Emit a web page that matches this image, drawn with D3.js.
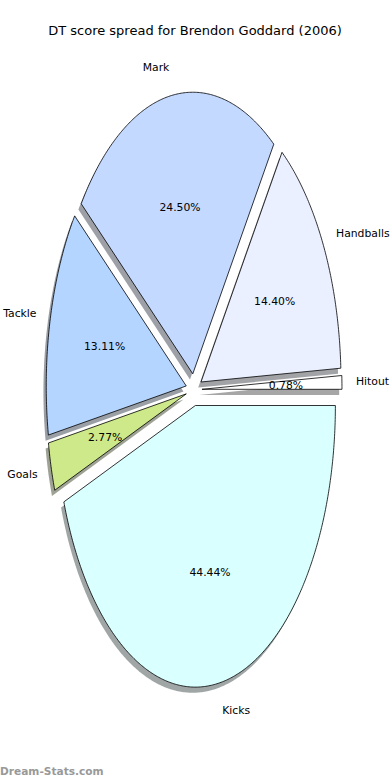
<!DOCTYPE html>
<html>
<head>
<meta charset="utf-8">
<script src="https://cdn.jsdelivr.net/npm/d3@7"></script>
<style>
body { margin: 0; background: #fff; }
svg { display: block; font-family: "DejaVu Sans", sans-serif; }
</style>
</head>
<body>
<svg id="chart" width="390" height="780"></svg>
<script>
var title = "DT score spread for Brendon Goddard (2006)";
var labels = ["Hitout", "Handballs", "Mark", "Tackle", "Goals", "Kicks"];
var values = [0.78, 14.40, 24.50, 13.11, 2.77, 44.44];
var colors = ["#ffffff", "#eaf0ff", "#c4d9ff", "#b4d5ff", "#cde98a", "#daffff"];
var explode = [0.057, 0.057, 0.057, 0.057, 0.057, 0.057];

// pie centre and radii (the pie is stretched, so it is an ellipse)
var cx = 194, cy = 389.7, rx = 140, ry = 281.6;

var x = d3.scaleLinear().domain([-1, 1]).range([cx - rx, cx + rx]);
var y = d3.scaleLinear().domain([-1, 1]).range([cy + ry, cy - ry]);

var svg = d3.select("#chart");

function setup()
{
    var slices = values.map(function(v, i)
    {
        return { label: labels[i], value: v, color: colors[i], explode: explode[i] };
    });

    // counter clockwise from 3 o'clock, like matplotlib
    var pie = d3.pie()
        .sort(null)
        .value(function(d) { return d.value; })
        .startAngle(0)
        .endAngle(2 * Math.PI);

    var arcs = pie(slices).map(function(a)
    {
        // here the angles are read as ccw from east
        var t0 = a.startAngle, t1 = a.endAngle, mid = (t0 + t1) / 2;
        return {
            data: a.data
        ,   t0: t0
        ,   t1: t1
        ,   mid: mid
        ,   ox: a.data.explode * Math.cos(mid)
        ,   oy: a.data.explode * Math.sin(mid)
        };
    });

    var line = d3.line()
        .x(function(p) { return x(p[0]); })
        .y(function(p) { return y(p[1]); });

    function wedge(d, dx, dy)
    {
        var pts = [[d.ox + dx, d.oy + dy]];
        var n = Math.max(4, Math.ceil((d.t1 - d.t0) / 0.01));
        for (var k = 0; k <= n; k++)
        {
            var t = d.t0 + (d.t1 - d.t0) * k / n;
            pts.push([d.ox + dx + Math.cos(t), d.oy + dy + Math.sin(t)]);
        }
        return line(pts) + "Z";
    }

    // shadows first, below every wedge
    svg.selectAll("path.shadow")
        .data(arcs)
        .enter().append("path")
        .attr("class", "shadow")
        .attr("d", function(d) { return wedge(d, -0.02, -0.02); })
        .attr("fill", function(d)
        {
            var c = d3.rgb(d.data.color);
            return d3.rgb(c.r * 0.3, c.g * 0.3, c.b * 0.3);
        })
        .attr("fill-opacity", 0.5)
        .attr("stroke", "none");

    svg.selectAll("path.wedge")
        .data(arcs)
        .enter().append("path")
        .attr("class", "wedge")
        .attr("d", function(d) { return wedge(d, 0, 0); })
        .attr("fill", function(d) { return d.data.color; })
        .attr("stroke", "#000")
        .attr("stroke-width", 0.8)
        .attr("stroke-linejoin", "miter");

    // category labels at 1.1 r
    svg.selectAll("text.label")
        .data(arcs)
        .enter().append("text")
        .attr("class", "label")
        .attr("x", function(d) { return x(d.ox + 1.1 * Math.cos(d.mid)); })
        .attr("y", function(d) { return y(d.oy + 1.1 * Math.sin(d.mid)); })
        .attr("dy", "0.35em")
        .attr("text-anchor", function(d) { return Math.cos(d.mid) > 0 ? "start" : "end"; })
        .attr("font-size", 10.8)
        .attr("fill", "#000")
        .text(function(d) { return d.data.label; });

    // percentages at 0.6 r
    svg.selectAll("text.pct")
        .data(arcs)
        .enter().append("text")
        .attr("class", "pct")
        .attr("x", function(d) { return x(d.ox + 0.6 * Math.cos(d.mid)); })
        .attr("y", function(d) { return y(d.oy + 0.6 * Math.sin(d.mid)); })
        .attr("dy", "0.35em")
        .attr("text-anchor", "middle")
        .attr("font-size", 10.8)
        .attr("fill", "#000")
        .text(function(d) { return d.data.value.toFixed(2) + "%"; });

    svg.append("text")
        .attr("x", 195)
        .attr("y", 30)
        .attr("dy", "0.35em")
        .attr("text-anchor", "middle")
        .attr("font-size", 13)
        .attr("fill", "#000")
        .text(title);

    svg.append("text")
        .attr("x", 0)
        .attr("y", 771)
        .attr("dy", "0.35em")
        .attr("font-size", 10.6)
        .attr("font-weight", "bold")
        .attr("fill", "#999")
        .text("Dream-Stats.com");
}

setup();
</script>
</body>
</html>
